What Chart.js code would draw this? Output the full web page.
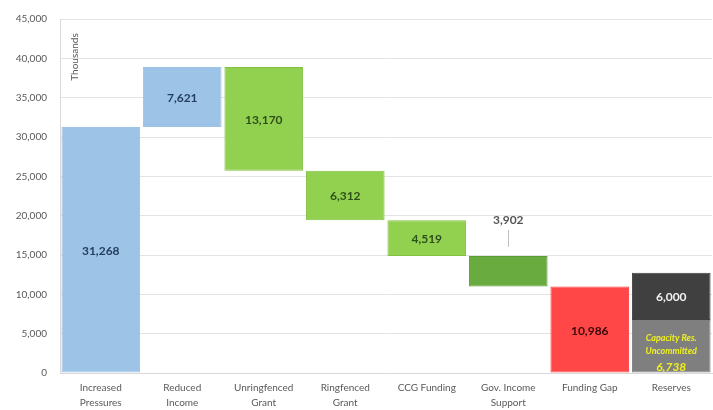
<!DOCTYPE html>
<html>
<head>
<meta charset="utf-8">
<script src="https://cdn.jsdelivr.net/npm/chart.js@4"></script>
<style>
html,body{margin:0;padding:0;background:#fff;}
#wrap{width:713px;height:410px;position:relative;}
</style>
</head>
<body>
<div id="wrap"><canvas id="c" width="713" height="410"></canvas></div>
<script>
// ---- data ----
const categories = [["Increased","Pressures"],["Reduced","Income"],["Unringfenced","Grant"],["Ringfenced","Grant"],["CCG Funding"],["Gov. Income","Support"],["Funding Gap"],["Reserves"]];
const changes = [31268, 7621, -13170, -6312, -4519, -3902];
const fundingGap = 10986;
const reserveCapacity = 6738;
const reserveOther = 6000;
const yTicks = [0,5000,10000,15000,20000,25000,30000,35000,40000,45000];

// ---- build waterfall ranges ----
const ranges = [];
let run = 0;
changes.forEach(v => { const s = run; run += v; ranges.push([Math.min(s, run), Math.max(s, run)]); });
ranges.push([0, fundingGap]);
ranges.push([0, reserveCapacity]);
const topRanges = [null,null,null,null,null,null,null,[reserveCapacity, reserveCapacity + reserveOther]];

const fills = ['#9DC3E6','#9DC3E6','#92D050','#92D050','#92D050','#6AAB3F','#FF4747','#7F7F7F'];
const borders = ['#9DC3E6','#9DC3E6','#84C043','#84C043','#84C043','#5E9A37','#FF4747','#7F7F7F'];

const fmt = n => Math.abs(n).toLocaleString('en-US');

const labelPlugin = {
  id: 'labels',
  afterDatasetsDraw(chart) {
    const ctx = chart.ctx;
    const meta = chart.getDatasetMeta(0);
    const y = chart.scales.y;
    ctx.save();
    ctx.textAlign = 'center';
    ctx.textBaseline = 'middle';
    const bold = '700 12px Lato, "Open Sans", sans-serif';
    const colors = ['#243F60','#243F60','#2E4F1A','#2E4F1A','#2E4F1A','#555','#3A0A0A'];
    const vals = changes.concat([fundingGap]);
    for (let i = 0; i < 7; i++) {
      const el = meta.data[i];
      const r = ranges[i];
      const cy = (y.getPixelForValue(r[0]) + y.getPixelForValue(r[1])) / 2;
      ctx.font = bold;
      ctx.fillStyle = colors[i];
      if (i === 5) {
        const topPx = y.getPixelForValue(r[1]);
        ctx.fillText(fmt(vals[i]), el.x, topPx - 36);
        ctx.strokeStyle = '#BFBFBF';
        ctx.lineWidth = 1;
        ctx.beginPath();
        ctx.moveTo(Math.round(el.x) + 0.5, topPx - 26);
        ctx.lineTo(Math.round(el.x) + 0.5, topPx - 9);
        ctx.stroke();
      } else {
        ctx.fillText(fmt(vals[i]), el.x, cy + 1);
      }
    }
    // reserves
    const el = meta.data[7];
    const t0 = y.getPixelForValue(reserveCapacity);
    const t1 = y.getPixelForValue(reserveCapacity + reserveOther);
    ctx.font = bold;
    ctx.fillStyle = '#F2F2F2';
    ctx.fillText(fmt(reserveOther), el.x, (t0 + t1) / 2 + 1);
    ctx.fillStyle = '#F0F020';
    ctx.font = 'italic 700 9px Lato, "Open Sans", sans-serif';
    ctx.fillText('Capacity Res.', el.x, t0 + 18);
    ctx.fillText('Uncommitted', el.x, t0 + 31);
    ctx.font = 'italic 700 12px Lato, "Open Sans", sans-serif';
    ctx.fillText(fmt(reserveCapacity), el.x, t0 + 47);
    // Thousands
    const area = chart.chartArea;
    ctx.translate(area.left + 15, area.top + 38);
    ctx.rotate(-Math.PI / 2);
    ctx.font = '10px Lato, "Open Sans", sans-serif';
    ctx.fillStyle = '#595959';
    ctx.fillText('Thousands', 0, 0);
    ctx.restore();
  }
};

new Chart(document.getElementById('c'), {
  type: 'bar',
  data: {
    labels: categories,
    datasets: [
      { data: ranges, backgroundColor: fills, borderColor: borders, borderWidth: 1, borderSkipped: false },
      { data: topRanges, backgroundColor: '#404040', borderColor: '#404040', borderWidth: 1, borderSkipped: false }
    ]
  },
  options: {
    responsive: false,
    animation: false,
    devicePixelRatio: 1,
    layout: { padding: { top: 13, right: 1, left: 0, bottom: 0 } },
    datasets: { bar: { grouped: false, barPercentage: 0.965, categoryPercentage: 1 } },
    plugins: { legend: { display: false }, tooltip: { enabled: false } },
    scales: {
      x: {
        grid: { display: false, drawTicks: false },
        border: { color: '#D9D9D9' },
        ticks: { color: '#595959', font: { size: 10, family: 'Lato, "Open Sans", sans-serif', lineHeight: 1.45 }, padding: 8, maxRotation: 0, autoSkip: false },
        afterFit(s) { s.height = 37; }
      },
      y: {
        min: 0, max: 45000,
        afterBuildTicks(s) { s.ticks = yTicks.map(v => ({ value: v })); },
        grid: { color: '#E3E3E3', drawTicks: false },
        border: { color: '#D9D9D9' },
        ticks: { color: '#595959', font: { size: 10, family: 'Lato, "Open Sans", sans-serif' }, padding: 13,
          callback: v => v.toLocaleString('en-US') },
        afterFit(s) { s.width = 60; }
      }
    }
  },
  plugins: [labelPlugin]
});
</script>
</body>
</html>
